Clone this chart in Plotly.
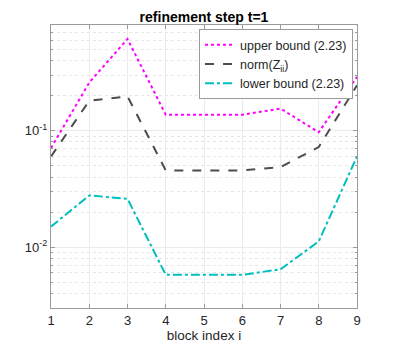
import plotly.graph_objects as go

# data
block_index = [1, 2, 3, 4, 5, 6, 7, 8, 9]
upper_bound = [0.071, 0.259, 0.614, 0.137, 0.137, 0.137, 0.155, 0.097, 0.29]
norm_zii = [0.060, 0.181, 0.197, 0.0456, 0.0456, 0.0456, 0.0487, 0.0724, 0.245]
lower_bound = [0.0150, 0.0278, 0.026, 0.00578, 0.00578, 0.00578, 0.00645, 0.0112, 0.060]

y_ticks = [0.01, 0.1]
y_ticktext = ['10<sup>-2</sup>', '10<sup>-1</sup>']
minor_vals = [m * 10.0 ** e for e in (-3, -2, -1) for m in range(2, 10)]

FONT = 'Liberation Sans, Arial, sans-serif'

fig = go.Figure()
fig.add_trace(go.Scatter(x=block_index, y=upper_bound, mode='lines',
                         name='upper bound (2.23)',
                         line=dict(color='#ff00ff', width=2, dash='dot')))
fig.add_trace(go.Scatter(x=block_index, y=norm_zii, mode='lines',
                         name='norm(Z<sub>ii</sub>)',
                         line=dict(color='#4d4d4d', width=2, dash='dash')))
fig.add_trace(go.Scatter(x=block_index, y=lower_bound, mode='lines',
                         name='lower bound (2.23)',
                         line=dict(color='#00bfbf', width=2, dash='dashdot')))

axis_common = dict(showline=True, linecolor='#9a9a9a', linewidth=1, mirror='ticks',
                   ticks='inside', ticklen=4, tickcolor='#9a9a9a',
                   showgrid=True, gridcolor='#ebebeb', gridwidth=1,
                   zeroline=False, automargin=False,
                   tickfont=dict(size=13, color='#262626', family=FONT))

# the page body adds an 8px offset, so margins are shifted by that
fig.update_layout(
    width=395, height=347,
    margin=dict(l=43, r=46, t=17, b=47),
    paper_bgcolor='white', plot_bgcolor='white',
    font=dict(family=FONT, color='#262626'),
    title=dict(text='<b>refinement step t=1</b>', x=(43 + 153) / 395, xanchor='center',
               y=1 - 9 / 347, yanchor='middle', font=dict(size=14, color='black')),
    xaxis=dict(range=[1, 9], dtick=1,
               title=dict(text='block index i', font=dict(size=13.5), standoff=0),
               **axis_common),
    yaxis=dict(type='log', range=[-2.523, -0.092],
               tickvals=y_ticks, ticktext=y_ticktext,
               minor=dict(tickvals=minor_vals, showgrid=True, gridcolor='#e6e6e6',
                          griddash='dot', ticks='inside', ticklen=2, tickcolor='#9a9a9a'),
               **axis_common),
    showlegend=True,
    legend=dict(x=0.987, y=0.985, xanchor='right', yanchor='top',
                bgcolor='white', bordercolor='#9a9a9a', borderwidth=1,
                font=dict(size=12.5, color='#262626'), tracegroupgap=0,
                itemwidth=30),
)

fig.write_html('out.html')
